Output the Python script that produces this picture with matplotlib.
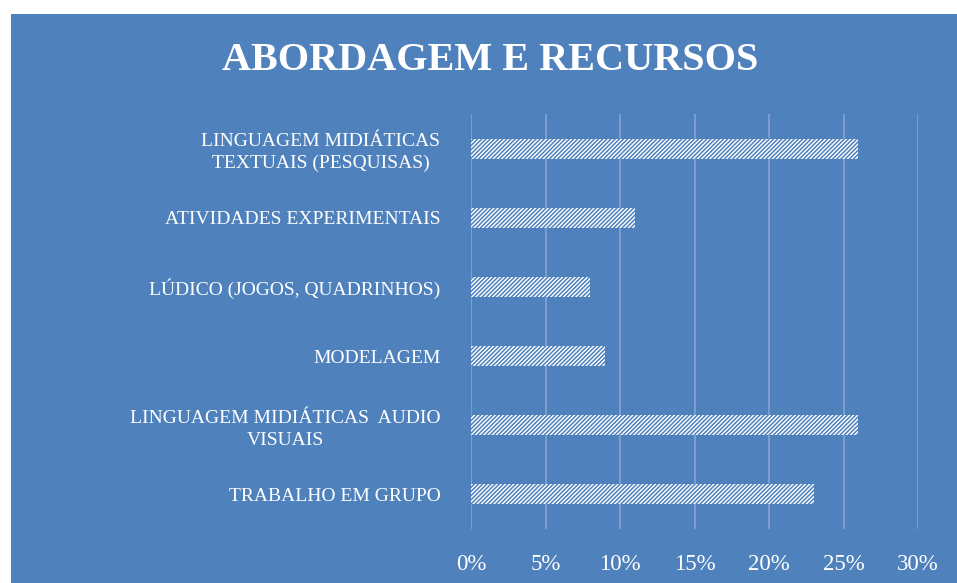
import matplotlib
matplotlib.use("Agg")
import matplotlib.pyplot as plt
from matplotlib.patches import Rectangle
from matplotlib.ticker import FuncFormatter

categories = [
    "LINGUAGEM MIDIÁTICAS\nTEXTUAIS (PESQUISAS)",
    "ATIVIDADES EXPERIMENTAIS",
    "LÚDICO (JOGOS, QUADRINHOS)",
    "MODELAGEM",
    "LINGUAGEM MIDIÁTICAS  AUDIO\nVISUAIS",
    "TRABALHO EM GRUPO",
]
values = [26, 11, 8, 9, 26, 23]
xticks = [0, 5, 10, 15, 20, 25, 30]
title = "ABORDAGEM E RECURSOS"

BLUE = "#4F81BD"
plt.rcParams["hatch.color"] = BLUE
plt.rcParams["hatch.linewidth"] = 1.1
plt.rcParams["font.family"] = ["Liberation Serif", "DejaVu Serif"]

fig = plt.figure(figsize=(9.57, 5.83), dpi=100, facecolor="white")
fig.patches.append(Rectangle((11 / 957, 0), 1 - 11 / 957, 1 - 14 / 583,
                             transform=fig.transFigure, facecolor=BLUE,
                             edgecolor="none", zorder=-10))

ax = fig.add_axes([471 / 957, 1 - 529 / 583, (918 - 471) / 957, (529 - 114) / 583])
ax.set_zorder(5)
ax.set_facecolor("none")
ypos = list(range(len(categories)))
ax.barh(ypos, values, height=0.29, color="white", edgecolor=BLUE,
        hatch="////////", linewidth=0, zorder=3)
ax.set_xlim(0, 30)
ax.set_ylim(len(categories) - 0.5, -0.5)
ax.set_xticks(xticks)
ax.xaxis.set_major_formatter(FuncFormatter(lambda v, p: f"{v:.0f}%"))
ax.set_yticks(ypos)
ax.set_yticklabels(categories, multialignment="center", linespacing=1.35)
ax.grid(axis="x", color="#86A5D3", linewidth=1.2, zorder=1)
for s in ax.spines.values():
    s.set_visible(False)
ax.tick_params(axis="y", length=0, pad=22, labelsize=14, labelcolor="white")
ax.tick_params(axis="x", length=0, pad=18, labelsize=16.5, labelcolor="white")

fig.text(490 / 957, 1 - 60 / 583, title, ha="center", va="center",
         fontsize=29, fontweight="bold", color="white", zorder=6)

fig.savefig("out.png", dpi=100, facecolor="white")
